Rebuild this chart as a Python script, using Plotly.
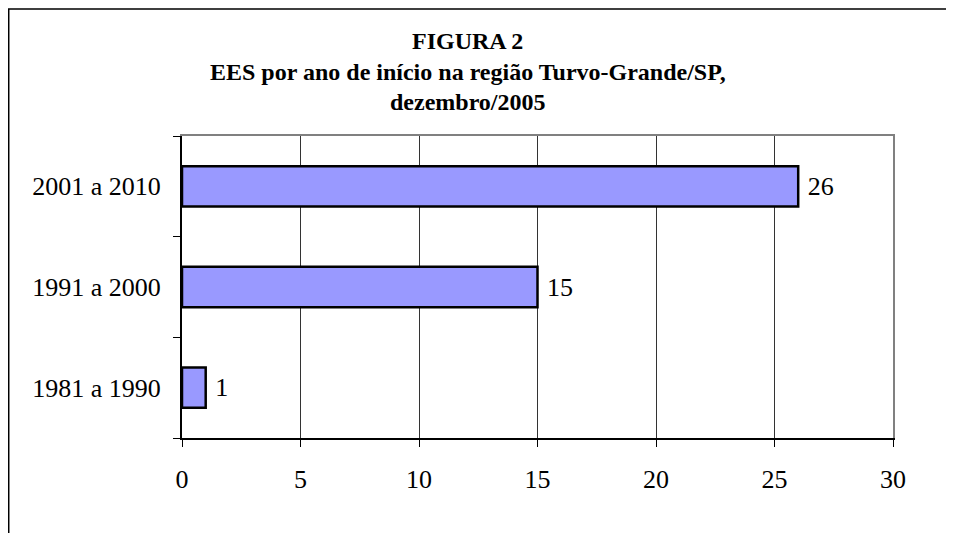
import plotly.graph_objects as go

categorias = ['1981 a 1990', '1991 a 2000', '2001 a 2010']
valores = [1, 15, 26]
x_ticks = [0, 5, 10, 15, 20, 25, 30]
titulo = ['FIGURA 2',
          'EES por ano de início na região Turvo-Grande/SP,',
          'dezembro/2005']

FONTE = 'Liberation Serif, Times New Roman, serif'

fig = go.Figure()

fig.add_trace(go.Bar(
    y=categorias,
    x=valores,
    orientation='h',
    width=0.4,
    marker=dict(color='#9999FF', line=dict(color='black', width=2.5)),
    text=[' ' + str(v) for v in valores],
    textposition='outside',
    cliponaxis=False,
    textfont=dict(family=FONTE, size=26, color='black'),
    hoverinfo='skip',
))

# titulo em tres linhas, espaçamento como no original
for i, linha in enumerate(titulo):
    fig.add_annotation(
        text=f'<b>{linha}</b>',
        xref='paper', yref='paper',
        x=0.402, y=1.314 - i * 0.101,
        xanchor='center', yanchor='middle',
        showarrow=False,
        font=dict(family=FONTE, size=24, color='black'),
    )

# moldura externa: so o lado esquerdo e o de cima (caminho aberto)
fig.add_shape(type='path', xref='paper', yref='paper',
              path='M -0.2437,-0.32 L -0.2437,1.4205 L 1.08,1.4205',
              fillcolor='rgba(0,0,0,0)',
              line=dict(color='black', width=1.5), layer='below')

fig.update_layout(
    width=938, height=525,
    margin=dict(l=174, r=53, t=128, b=95),
    paper_bgcolor='white',
    plot_bgcolor='white',
    showlegend=False,
    bargap=0.6,
    xaxis=dict(
        range=[0, 30],
        tickvals=x_ticks,
        ticks='outside', ticklen=7, tickcolor='black',
        ticklabelstandoff=10,
        tickfont=dict(family=FONTE, size=26, color='black'),
        showgrid=True, gridcolor='#333333', gridwidth=1,
        showline=True, linecolor='black', linewidth=2,
        zeroline=False, automargin=False,
        fixedrange=True,
    ),
    xaxis2=dict(overlaying='x', side='top', range=[0, 30], showline=True,
                linecolor='#808080', linewidth=2, showticklabels=False,
                showgrid=False, zeroline=False, ticks='', automargin=False),
    yaxis=dict(
        categoryorder='array', categoryarray=categorias,
        ticks='outside', ticklen=7, tickcolor='black',
        tickson='boundaries',
        ticklabelstandoff=14,
        tickfont=dict(family=FONTE, size=26, color='black'),
        showline=True, linecolor='black', linewidth=2,
        showgrid=False, zeroline=False, automargin=False,
        fixedrange=True,
    ),
    yaxis2=dict(overlaying='y', side='right', showline=True,
                linecolor='#808080', linewidth=2, showticklabels=False,
                showgrid=False, zeroline=False, ticks='', automargin=False),
)

# traço invisível para mostrar os eixos de cima/direita
fig.add_trace(go.Scatter(x=[0], y=[0], xaxis='x2', yaxis='y2',
                         mode='markers', marker=dict(opacity=0),
                         hoverinfo='skip'))

fig.write_html('out.html')
